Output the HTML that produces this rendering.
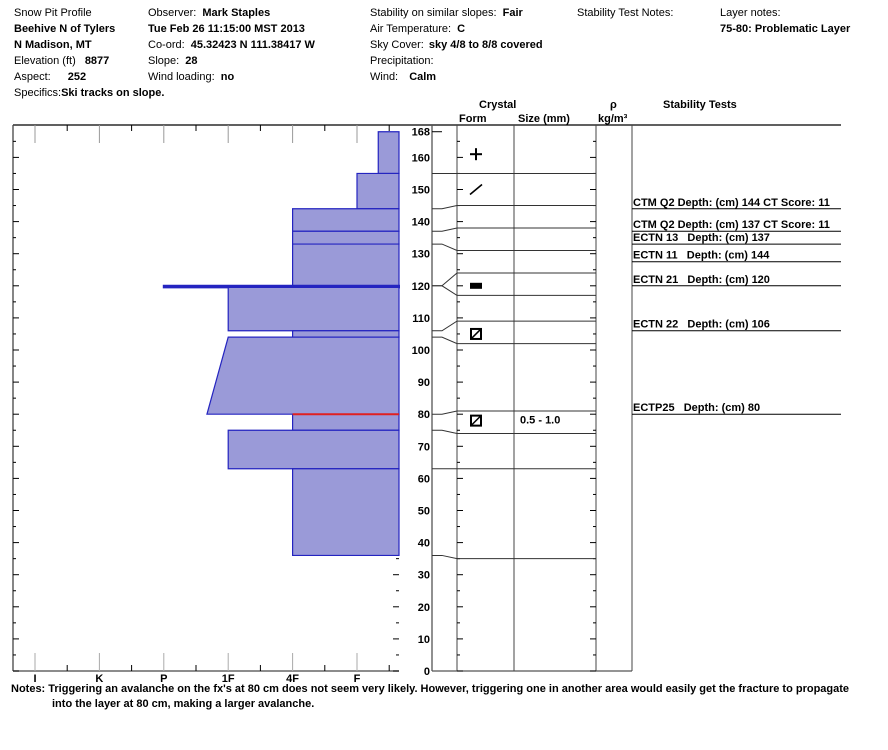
<!DOCTYPE html>
<html><head><meta charset="utf-8"><style>
body{margin:0;background:#fff;}
svg{display:block;font-family:"Liberation Sans",Arial,sans-serif;}
.h{font-size:11px;fill:#000}
.b{font-size:11px;font-weight:bold;fill:#000}
</style></head><body>
<svg id="pit" width="888" height="750" viewBox="0 0 888 750">
<g>
<text class="h" x="14" y="16">Snow Pit Profile</text>
<text class="b" x="14" y="32">Beehive N of Tylers</text>
<text class="b" x="14" y="48">N Madison, MT</text>
<text class="h" x="14" y="64">Elevation (ft) <tspan font-weight="bold" dx="6">8877</tspan></text>
<text class="h" x="14" y="80">Aspect: <tspan font-weight="bold" dx="14">252</tspan></text>
<text class="h" x="14" y="96">Specifics:<tspan font-weight="bold">Ski tracks on slope.</tspan></text>
<text class="h" x="148" y="16">Observer: <tspan font-weight="bold" dx="3">Mark Staples</tspan></text>
<text class="b" x="148" y="32">Tue Feb 26 11:15:00 MST 2013</text>
<text class="h" x="148" y="48">Co-ord: <tspan font-weight="bold" dx="3">45.32423 N 111.38417 W</tspan></text>
<text class="h" x="148" y="64">Slope: <tspan font-weight="bold" dx="3">28</tspan></text>
<text class="h" x="148" y="80">Wind loading: <tspan font-weight="bold" dx="3">no</tspan></text>
<text class="h" x="370" y="16">Stability on similar slopes: <tspan font-weight="bold" dx="3">Fair</tspan></text>
<text class="h" x="370" y="32">Air Temperature: <tspan font-weight="bold" dx="3">C</tspan></text>
<text class="h" x="370" y="48">Sky Cover: <tspan font-weight="bold" dx="2">sky 4/8 to 8/8 covered</tspan></text>
<text class="h" x="370" y="64">Precipitation:</text>
<text class="h" x="370" y="80">Wind: <tspan font-weight="bold" dx="8">Calm</tspan></text>
<text class="h" x="577" y="16">Stability Test Notes:</text>
<text class="h" x="720" y="16">Layer notes:</text>
<text class="b" x="720" y="32">75-80: Problematic Layer</text>
</g>
<g>
<text class="b" x="479" y="108">Crystal</text>
<text class="b" x="459" y="122">Form</text>
<text class="b" x="518" y="122">Size (mm)</text>
<text class="b" x="610" y="108">ρ</text>
<text class="b" x="598" y="122">kg/m³</text>
<text class="b" x="663" y="108">Stability Tests</text>
</g>
<g id="plot"></g>
<g>
<text class="b" x="11" y="692">Notes:  Triggering an avalanche on the fx's at 80 cm does not seem very likely. However, triggering one in another area would easily get the fracture to propagate</text>
<text class="b" x="52" y="707">into the layer at 80 cm, making a larger avalanche.</text>
</g>
</svg>
<script>
// layer data: top cm, bottom cm, hardness at top, hardness at bottom (I=1,K=2,P=3,1F=4,4F=5,F=6)
const layerTop =    [168,155,144,137,133,120,119.5,106,104,80,75,63];
const layerBottom = [155,144,137,133,120,119.5,106,104,80,75,63,36];
const hardTop =     [6.33,6,5,5,5,3,4,5,4,5,4,5];
const hardBottom =  [6.33,6,5,5,5,3,4,5,3.67,5,4,5];
const hardLabels = ["I","K","P","1F","4F","F"];
const depthTicks = [0,10,20,30,40,50,60,70,80,90,100,110,120,130,140,150,160,168];
// crystal layer boundaries: true height (cm) and displayed height in table (cm)
const bndTrue = [155,144,137,133,120,120,106,104,80,75,63,36];
const bndShown= [155,145,138,131,124,117,109,102,81,74,63,35];
const crystals = [{h:161,t:"plus"},{h:150,t:"slash"},{h:120,t:"rect"},{h:105,t:"box"},{h:78,t:"box",size:"0.5 - 1.0"}];
const testNames = ["CTM Q2 Depth: (cm) 144 CT Score: 11","CTM Q2 Depth: (cm) 137 CT Score: 11","ECTN 13   Depth: (cm) 137","ECTN 11   Depth: (cm) 144","ECTN 21   Depth: (cm) 120","ECTN 22   Depth: (cm) 106","ECTP25   Depth: (cm) 80"];
const testLineH = [144,137,133,127.5,120,106,80];

const NS="http://www.w3.org/2000/svg";
const g=document.getElementById('plot');
const y=h=>671-3.21*h;
const x=v=>35+(v-1)*64.4;
const RIGHT=399;
function mk(tag,at,name,parent){const e=document.createElementNS(NS,tag);for(const k in at)e.setAttribute(k,at[k]);


(parent||g).appendChild(e);return e;}
function ln(x1,y1,x2,y2,c,w,name){return mk('line',{x1,y1,x2,y2,stroke:c,'stroke-width':w||1},name);}
// frames
ln(13,125,841,125,'#000',1.3,'top-frame');
ln(13,125,13,671,'#444',1.3,'left-axis');
ln(13,671,RIGHT,671,'#666',1.5,'hardness-axis');
ln(432,125,432,671,'#555',1.3,'depth-axis');
ln(432,671,632,671,'#555',1.3,'table-bottom');
[457,514,596,632].forEach((c,i)=>ln(c,125,c,671,'#444',1,'column-divider'));
// hardness ticks
for(let i=0;i<6;i++){const xv=x(i+1);
ln(xv,125,xv,143,'#999',1,'hardness-top-tick');
ln(xv,653,xv,671,'#aaa',1,'hardness-bottom-tick');
const t=mk('text',{x:xv,y:682,'text-anchor':'middle',class:'b'},'hardness-label');t.textContent=hardLabels[i];
if(i<6){const xm=xv+32.2;ln(xm,125,xm,131,'#000',1,'hardness-minor-tick');ln(xm,665,xm,671,'#000',1,'hardness-minor-tick');}}
// depth ticks
for(let h=0;h<=165;h+=5){const yy=y(h),L=h%10===0?6:3;
ln(13,yy,13+L,yy,'#000',1,'left-depth-tick');ln(RIGHT-L,yy,RIGHT,yy,'#000',1,'right-depth-tick');
ln(457,yy,457+L,yy,'#000',1,'form-tick');ln(596-L,yy,596,yy,'#000',1,'density-tick');}
ln(432,y(168),442,y(168),'#000',1,'top-tick');
depthTicks.forEach(d=>{const t=mk('text',{x:430,y:y(d)+4,'text-anchor':'end',class:'b'},'depth-label');t.textContent=d;});
// layers
for(let i=0;i<layerTop.length;i++){
const pts=[[x(hardTop[i]),y(layerTop[i])],[RIGHT,y(layerTop[i])],[RIGHT,y(layerBottom[i])],[x(hardBottom[i]),y(layerBottom[i])]];
mk('polygon',{points:pts.map(p=>p.join(',')).join(' '),fill:'#9a9ad8',stroke:'#2424c0','stroke-width':layerTop[i]-layerBottom[i]<1?2:1.2},'hardness-layer');}
ln(x(5),y(80),RIGHT,y(80),'#e02020',2,'problem-layer-line');
// crystal boundaries
for(let i=0;i<bndTrue.length;i++){
mk('polyline',{points:`432,${y(bndTrue[i])} 442,${y(bndTrue[i])} 457,${y(bndShown[i])} 596,${y(bndShown[i])}`,fill:'none',stroke:'#333','stroke-width':1},'layer-boundary');}
// crystal symbols
crystals.forEach(c=>{const cx=476,cy=y(c.h);
if(c.t==='plus'){ln(cx-6,cy,cx+6,cy,'#000',2,'crystal-precip');ln(cx,cy-6,cx,cy+6,'#000',2,'crystal-precip');}
if(c.t==='slash'){ln(cx-6,cy+5,cx+6,cy-5,'#000',1.6,'crystal-decomposed');}
if(c.t==='rect'){mk('rect',{x:cx-6,y:cy-3,width:12,height:6,fill:'#000'},'crystal-facet-rounded');}
if(c.t==='box'){mk('rect',{x:cx-5,y:cy-5,width:10,height:10,fill:'none',stroke:'#000','stroke-width':2},'crystal-faceted');ln(cx-4,cy+4,cx+4,cy-4,'#000',1.5,'crystal-faceted');}
if(c.size){const t=mk('text',{x:520,y:cy+3,class:'b'},'crystal-size');t.textContent=c.size;}});
// stability tests
testNames.forEach((n,i)=>{const yy=y(testLineH[i]);ln(632,yy,841,yy,'#000',1,'stability-test-line');
const t=mk('text',{x:633,y:yy-3,class:'b','xml:space':'preserve'},'stability-test');t.setAttribute('style','white-space:pre');t.textContent=n;});
</script>
</body></html>
